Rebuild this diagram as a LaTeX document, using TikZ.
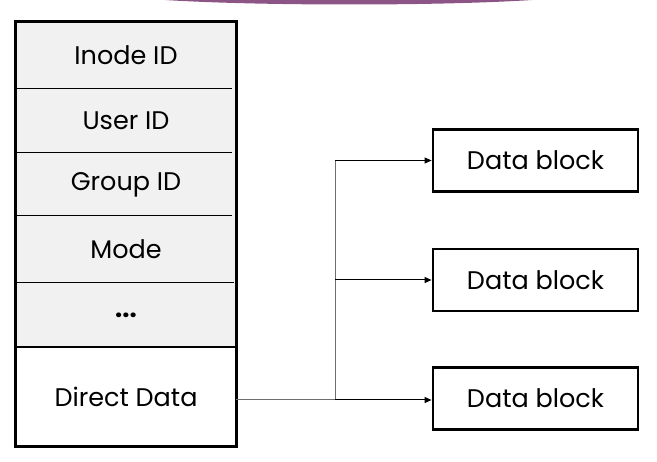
\documentclass[tikz,border=0pt]{standalone}
\usepackage{fontspec}
\setmainfont{Poppins}
\usetikzlibrary{arrows.meta}
\definecolor{rowgray}{RGB}{241,241,241}
\definecolor{arcpurple}{RGB}{112,42,102}
\definecolor{linkgray}{RGB}{110,110,110}
\begin{document}
\begin{tikzpicture}[x=1pt,y=-1pt,
  rowcell/.style={rectangle,fill=rowgray,minimum width=220pt,inner sep=0pt,font=\fontsize{25.5}{28}\selectfont},
  whitecell/.style={rectangle,fill=white,minimum width=220pt,inner sep=0pt,font=\fontsize{25.5}{28}\selectfont},
  blockbox/.style={rectangle,draw=black,line width=2.8pt,fill=white,minimum width=205pt,minimum height=62pt,inner sep=0pt,font=\fontsize{25.5}{28}\selectfont},
  divider/.style={line width=1pt,black},
  link/.style={line width=1pt,linkgray},
  arrowlink/.style={line width=1pt,black,-{Triangle[length=7pt,width=6pt]}}
]
\useasboundingbox (0,0) rectangle (657,462);
% purple arc at top
\fill[arcpurple!80] (165,0) .. controls (260,6) and (440,6) .. (532,0) -- cycle;
% rows
\node[rowcell,minimum height=67pt] (inode) at (126,55.5) {\raisebox{-2pt}{Inode ID}};
\node[rowcell,minimum height=64pt] (user) at (126,121) {User ID};
\node[rowcell,minimum height=63pt] (group) at (126,184.5) {Group ID};
\node[rowcell,minimum height=67pt] (mode) at (126,249.5) {Mode};
\node[rowcell,minimum height=64pt] (dots) at (126,315) {\raisebox{-2pt}{\textbf{...}}};
\node[whitecell,minimum height=99pt] (direct) at (126,396.5) {Direct Data};
% dividers
\draw[divider] (14,89) -- (232,89);
\draw[divider] (14,153) -- (232,153);
\draw[divider] (14,216) -- (232,216);
\draw[divider] (16,283) -- (234,283);
\draw[line width=2.8pt] (16,347) -- (236,347);
% outer box
\draw[line width=2.8pt] (inode.north west) rectangle (direct.south east);
% data blocks
\node[blockbox] (b1) at (535.5,160.5) {Data block};
\node[blockbox] (b2) at (535.5,280) {Data block};
\node[blockbox] (b3) at (535.5,398.5) {Data block};
% connectors
\coordinate (split) at (335,400);
\coordinate (top) at (335,160.5);
\coordinate (mid) at (335,280);
\draw[link] (direct.east |- split) -- (split) -- (top);
\draw[arrowlink] (top) -- (b1.west);
\draw[arrowlink] (mid) -- (b2.west);
\draw[arrowlink] (split) -- (b3.west |- split);
\end{tikzpicture}
\end{document}
